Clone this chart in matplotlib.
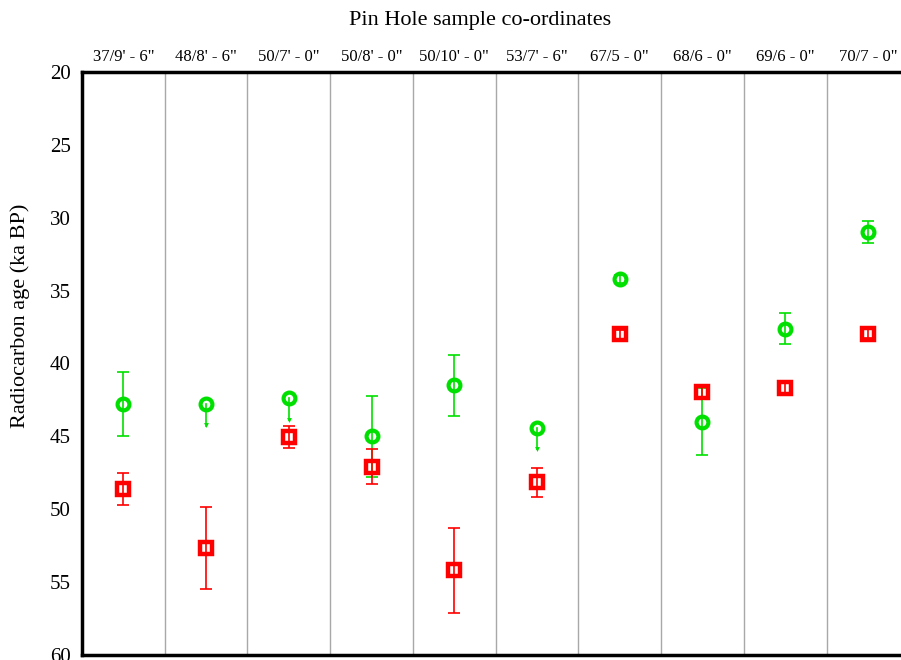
import matplotlib
matplotlib.use("Agg")
import matplotlib.pyplot as plt
import numpy as np

plt.rcParams['font.family'] = ['Liberation Serif', 'DejaVu Serif']

categories = ["37/9' - 6\"", "48/8' - 6\"", "50/7' - 0\"", "50/8' - 0\"", "50/10' - 0\"",
              "53/7' - 6\"", "67/5 - 0\"", "68/6 - 0\"", "69/6 - 0\"", "70/7 - 0\""]

green_age = [42.8, 42.8, 42.4, 45.0, 41.5, 44.4, 34.2, 44.0, 37.6, 31.0]
green_err = [2.2, 0.0, 0.0, 2.8, 2.1, 0.0, 0.3, 2.3, 1.05, 0.75]
green_lowlim = [False, True, True, False, False, True, False, False, False, False]

red_age = [48.6, 52.65, 45.05, 47.1, 54.2, 48.15, 38.0, 41.95, 41.7, 37.95]
red_err = [1.1, 2.8, 0.75, 1.2, 2.9, 1.0, 0.3, 0.35, 0.35, 0.3]

yticks = [20, 25, 30, 35, 40, 45, 50, 55, 60]

fig = plt.figure(figsize=(9.01, 6.60), dpi=100)
ax = fig.add_axes([82/901, 1 - 655/660, 1 - 82/901, (655 - 72)/660])

x = np.arange(len(categories))
ax.set_xlim(-0.5, 9.40)
ax.set_ylim(60, 20)

for i in range(len(categories) - 1):
    ax.axvline(i + 0.5, color='#a8a8a8', lw=1.0, zorder=1)

green = '#00e000'
red = '#ff0000'

# green series: error bars, lower-limit arrows, markers
ge = np.array(green_err)
mask = ge > 0
ax.errorbar(x[mask], np.array(green_age)[mask], yerr=ge[mask], fmt='none',
            ecolor=green, elinewidth=1.2, capsize=4, capthick=1.2, zorder=2)
for xi, yi, lim in zip(x, green_age, green_lowlim):
    if lim:
        ax.plot([xi, xi], [yi, yi + 1.5], color=green, lw=1.2, zorder=2)
        ax.plot([xi], [yi + 1.45], marker='v', ms=3.5, color=green, mew=0, zorder=2)
ax.plot(x, green_age, ls='none', marker='o', ms=8.5, mfc='none', mec=green, mew=3, zorder=3)

# red series
ax.errorbar(x, red_age, yerr=red_err, fmt='none',
            ecolor=red, elinewidth=1.2, capsize=4, capthick=1.2, zorder=2)
ax.plot(x, red_age, ls='none', marker='s', ms=8.5, mfc='none', mec=red, mew=3.2, zorder=3)

ax.xaxis.tick_top()
ax.set_xticks(x)
ax.set_xticklabels(categories, fontsize=12)
ax.tick_params(axis='x', length=0, pad=5)
ax.set_yticks(yticks)
ax.set_yticklabels([str(t) for t in yticks], fontsize=15)
ax.tick_params(axis='y', length=0, pad=8)

fig.text(20/901, 1 - 316/660, 'Radiocarbon age (ka BP)', rotation=90,
         ha='center', va='center', fontsize=16)
fig.text(480/901, 1 - 21/660, 'Pin Hole sample co-ordinates', ha='center', va='center', fontsize=16)

for s in ['top', 'left', 'bottom']:
    ax.spines[s].set_linewidth(2.5)
    ax.spines[s].set_color('black')
ax.spines['right'].set_visible(False)

fig.savefig('out.png', dpi=100)
